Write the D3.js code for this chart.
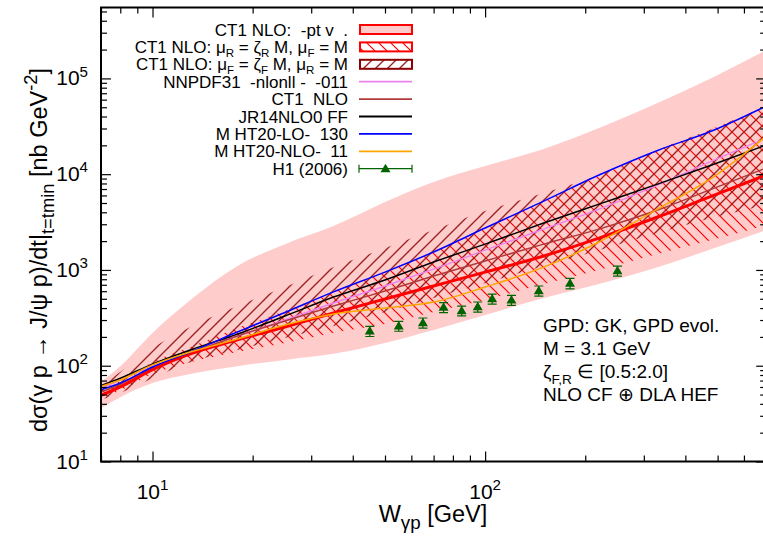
<!DOCTYPE html>
<html>
<head>
<meta charset="utf-8">
<script src="https://cdn.jsdelivr.net/npm/d3@7"></script>
<style>
    body { margin: 0; background: #fff; }
    svg { display: block; font-family: "Liberation Sans", Arial, Helvetica, sans-serif; }
    text { white-space: pre; }
</style>
</head>
<body>
<svg id="chart" width="763" height="536"></svg>
<script>
// W grid (GeV) shared by all curves
const wGrid = [7, 8, 10, 13, 18, 25, 35, 50, 70, 100, 150, 220, 330, 480, 700];

// CT1 NLO band (light pink)
const bandLo = [36, 47, 66, 82, 99, 115, 133, 173, 236, 338, 509, 713, 1070, 1650, 2610];
const bandHi = [68, 99, 220, 485, 1100, 1860, 2870, 5120, 8270, 12150, 18300, 30300, 55300, 101000, 197000];
// mu_R variation (red "\" hatch)
const muRLo = [46, 55, 82, 109, 139, 173, 220, 272, 364, 485, 713, 998, 1470, 2050, 2940];
const muRHi = [58, 69, 109, 157, 248, 372, 588, 950, 1540, 2670, 5240, 9560, 17900, 29600, 51400];
// mu_F variation (dark red "/" hatch)
const muFLo = [44, 52, 74, 109, 146, 195, 260, 364, 509, 730, 1100, 1610, 2430, 3480, 4760];
const muFHi = [63, 86, 153, 254, 420, 663, 1070, 1690, 2610, 4120, 6350, 9790, 17900, 29600, 51400];

// central curves
const ct1Central = [49, 60, 91, 133, 186, 254, 355, 497, 680, 950, 1400, 2150, 3570, 5900, 9800];
const nnpdf = [58, 71, 99, 139, 204, 300, 451, 679, 1020, 1610, 2670, 4320, 7690, 13700, 23800];
const ct1Nlo = [53, 64, 95, 136, 204, 293, 420, 602, 864, 1240, 1860, 2670, 4220, 6990, 11600];
const jr14 = [62, 74, 104, 146, 214, 330, 521, 785, 1210, 1860, 3090, 4870, 7880, 12450, 20100];
const mshtLo = [56, 66, 97, 139, 225, 360, 590, 950, 1540, 2740, 5240, 9800, 17700, 28200, 51400];
const mshtNlo = [61, 71, 102, 139, 190, 266, 347, 400, 462, 663, 1070, 1960, 4320, 9100, 25000];

// H1 (2006) data
const h1W = [45, 55, 65, 75, 85, 95, 105, 120, 145, 180, 250];
const h1Val = [230, 260, 281, 407, 375, 413, 500, 485, 607, 725, 980];
const h1Err = [28, 31, 34, 48, 44, 50, 60, 58, 73, 90, 118];

const xMajor = [10, 100];
const yMajor = [10, 100, 1000, 10000, 100000];

const svg = d3.select('#chart');
const L = 101, R = 766.2, T = 7.5, B = 461.5;

const x = d3.scaleLog().domain([7, 700]).range([L, R]);
const y = d3.scaleLog().domain([10, 5.5e5]).range([B, T]);

// rich text helper: parts = [[text, 'sub'|'sup'|null], ...]
function rich(t, parts, size, small = 0.72, subShift = 0.3) {
    let cur = 0;
    parts.forEach(([s, m]) => {
        const target = m === 'sub' ? subShift * size : m === 'sup' ? -0.42 * size : 0;
        t.append('tspan')
            .attr('dy', target - cur)
            .attr('font-size', m ? size * small : size)
            .text(s);
        cur = target;
    });
    return t;
}

const defs = svg.append('defs');
defs.append('clipPath').attr('id', 'clip')
    .append('rect').attr('x', L).attr('y', T).attr('width', R - L).attr('height', B - T);

function hatch(id, color, back, w) {
    const p = defs.append('pattern').attr('id', id)
        .attr('patternUnits', 'userSpaceOnUse').attr('width', 12).attr('height', 12);
    const d = back
        ? 'M-1,-1 L13,13 M-1,11 L1,13 M11,-1 L13,1'
        : 'M-1,13 L13,-1 M-1,1 L1,-1 M11,13 L13,11';
    p.append('path').attr('d', d).attr('stroke', color).attr('stroke-width', w).attr('fill', 'none');
}
hatch('hR', '#ff0000', true, 1.2);
hatch('hF', '#9c2222', false, 1.4);

const plot = svg.append('g').attr('clip-path', 'url(#clip)');

const area = (lo, hi) => d3.area()
    .x((d, i) => x(wGrid[i]))
    .y0((d, i) => y(lo[i]))
    .y1((d, i) => y(hi[i]))
    .curve(d3.curveMonotoneX)(wGrid);

const line = vals => d3.line()
    .x((d, i) => x(wGrid[i]))
    .y((d, i) => y(vals[i]))
    .curve(d3.curveMonotoneX)(wGrid);

plot.append('path').attr('d', area(bandLo, bandHi)).attr('fill', '#ffcccc');
plot.append('path').attr('d', area(muRLo, muRHi)).attr('fill', 'url(#hR)');
plot.append('path').attr('d', area(muFLo, muFHi)).attr('fill', 'url(#hF)');

const curves = [
    [nnpdf, '#ee82ee', 1.5],
    [ct1Nlo, '#b03a3a', 1.5],
    [ct1Central, '#ff0000', 3],
    [jr14, '#000000', 1.5],
    [mshtLo, '#0000ff', 1.5],
    [mshtNlo, '#ffa500', 1.5],
];
curves.forEach(([v, c, w]) => {
    plot.append('path').attr('d', line(v)).attr('fill', 'none').attr('stroke', c).attr('stroke-width', w);
});

// H1 data
const green = '#006400';
const pts = plot.append('g');
h1W.forEach((w, i) => {
    const cx = x(w), cy = y(h1Val[i]);
    const y1 = y(h1Val[i] + h1Err[i]), y2 = y(h1Val[i] - h1Err[i]);
    pts.append('path')
        .attr('d', `M${cx},${y1}L${cx},${y2}M${cx - 4.5},${y1}L${cx + 4.5},${y1}M${cx - 4.5},${y2}L${cx + 4.5},${y2}`)
        .attr('stroke', green).attr('stroke-width', 1.2).attr('fill', 'none');
    pts.append('path')
        .attr('d', `M${cx},${cy - 5}L${cx + 5},${cy + 3.5}L${cx - 5},${cy + 3.5}Z`)
        .attr('fill', green);
});

// axes ticks
const xMinor = x.ticks().filter(v => !xMajor.includes(v));
const yMinor = y.ticks().filter(v => !yMajor.includes(v));

function ticks(axisFn, scale, pos, vals, size) {
    svg.append('g').attr('transform', pos)
        .call(axisFn(scale).tickValues(vals).tickSize(-size).tickFormat(''))
        .call(g => g.select('.domain').remove())
        .selectAll('line').attr('stroke', '#000').attr('stroke-width', 1.2);
}
ticks(d3.axisBottom, x, `translate(0,${B})`, xMajor, 10);
ticks(d3.axisBottom, x, `translate(0,${B})`, xMinor, 6);
ticks(d3.axisTop, x, `translate(0,${T})`, xMajor, 10);
ticks(d3.axisTop, x, `translate(0,${T})`, xMinor, 6);
ticks(d3.axisLeft, y, `translate(${L},0)`, yMajor, 10);
ticks(d3.axisLeft, y, `translate(${L},0)`, yMinor, 6);
ticks(d3.axisRight, y, `translate(${R},0)`, yMajor, 10);
ticks(d3.axisRight, y, `translate(${R},0)`, yMinor, 6);

svg.append('rect').attr('x', L).attr('y', T).attr('width', R - L).attr('height', B - T)
    .attr('fill', 'none').attr('stroke', '#000').attr('stroke-width', 2);

// tick labels
xMajor.forEach(v => {
    const t = svg.append('text').attr('x', x(v)).attr('y', 499).attr('text-anchor', 'middle');
    rich(t, [['10', null], [String(Math.round(Math.log10(v))), 'sup']], 21);
});
yMajor.forEach(v => {
    const t = svg.append('text').attr('x', 88).attr('y', y(v) + 7).attr('text-anchor', 'end');
    rich(t, [['10', null], [String(Math.round(Math.log10(v))), 'sup']], 21);
});

// axis titles
rich(svg.append('text').attr('x', 433).attr('y', 522).attr('text-anchor', 'middle'),
    [['W', null], ['γp', 'sub'], [' [GeV]', null]], 23.5, 0.8);
rich(svg.append('text').attr('transform', 'translate(47,250) rotate(-90)').attr('text-anchor', 'middle'),
    [['dσ(γ p → J/ψ p)/dt|', null], ['t=tmin', 'sub'], [' [nb GeV', null], ['-2', 'sup'], [']', null]], 23.5, 0.78);

// legend
const legend = [
    { parts: [['CT1 NLO:  -pt v  .', null]], kind: 'box', fill: '#ffcccc', stroke: '#ff0000' },
    { parts: [['CT1 NLO: μ', null], ['R', 'sub'], [' = ζ', null], ['R', 'sub'], [' M, μ', null], ['F', 'sub'], [' = M', null]], kind: 'box', fill: 'url(#hR)', stroke: '#ff0000' },
    { parts: [['CT1 NLO: μ', null], ['F', 'sub'], [' = ζ', null], ['F', 'sub'], [' M, μ', null], ['R', 'sub'], [' = M', null]], kind: 'box', fill: 'url(#hF)', stroke: '#8b0000' },
    { parts: [['NNPDF31  -nlonll -  -011', null]], kind: 'line', stroke: '#ee82ee' },
    { parts: [['CT1  NLO', null]], kind: 'line', stroke: '#b03a3a' },
    { parts: [['JR14NLO0 FF', null]], kind: 'line', stroke: '#000000' },
    { parts: [['M HT20-LO-  130', null]], kind: 'line', stroke: '#0000ff' },
    { parts: [['M HT20-NLO-  11', null]], kind: 'line', stroke: '#ffa500' },
    { parts: [['H1 (2006)', null]], kind: 'pts', stroke: green },
];
const lg = svg.append('g');
legend.forEach((e, i) => {
    const cy = 29.5 + i * 17.4;
    rich(lg.append('text').attr('x', 348).attr('y', cy + 6).attr('text-anchor', 'end'), e.parts, 17, 0.68, 0.22);
    if (e.kind === 'box') {
        lg.append('rect').attr('x', 360).attr('y', cy - 4.5).attr('width', 52).attr('height', 9)
            .attr('fill', '#fff');
        lg.append('rect').attr('x', 360).attr('y', cy - 4.5).attr('width', 52).attr('height', 9)
            .attr('fill', e.fill).attr('stroke', e.stroke).attr('stroke-width', 2);
    } else if (e.kind === 'line') {
        lg.append('line').attr('x1', 359).attr('x2', 412).attr('y1', cy).attr('y2', cy)
            .attr('stroke', e.stroke).attr('stroke-width', 1.8);
    } else {
        lg.append('path').attr('d', `M359,${cy}L412,${cy}M359,${cy - 4}L359,${cy + 4}M412,${cy - 4}L412,${cy + 4}`)
            .attr('stroke', e.stroke).attr('stroke-width', 1.2);
        lg.append('path').attr('d', `M385.5,${cy - 5}L390.5,${cy + 3.5}L380.5,${cy + 3.5}Z`).attr('fill', e.stroke);
    }
});

// annotation
const notes = [
    [['GPD: GK, GPD evol.', null]],
    [['M = 3.1 GeV', null]],
    [['ζ', null], ['F,R', 'sub'], [' ∈ [0.5:2.0]', null]],
    [['NLO CF ⊕ DLA HEF', null]],
];
notes.forEach((p, i) => {
    rich(svg.append('text').attr('x', 543).attr('y', 332 + i * 23), p, 19);
});
</script>
</body>
</html>
